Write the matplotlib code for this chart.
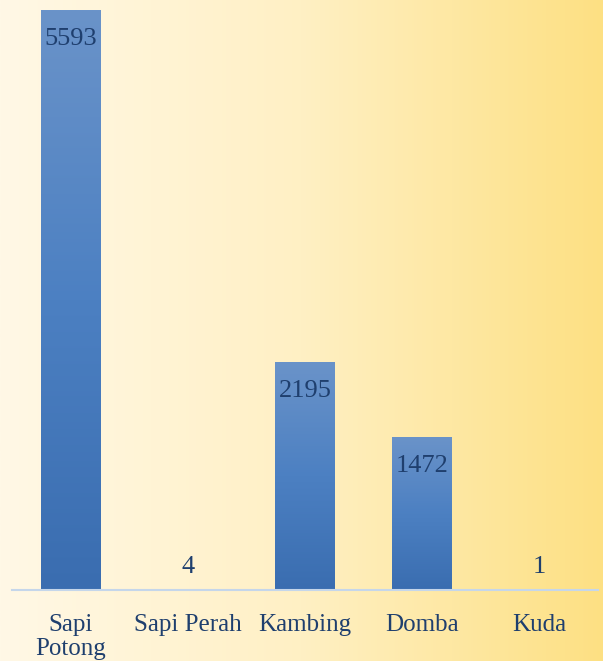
import numpy as np
import matplotlib.pyplot as plt
from matplotlib.colors import LinearSegmentedColormap

# data
categories = ["Sapi\nPotong", "Sapi Perah", "Kambing", "Domba", "Kuda"]
values = [5593, 4, 2195, 1472, 1]

text_color = "#1f3f6e"
font = "Liberation Serif"

fig = plt.figure(figsize=(6.03, 6.61), dpi=100)

# background gradient (cream -> yellow, left to right)
bg = fig.add_axes([0, 0, 1, 1], zorder=0)
bg_cmap = LinearSegmentedColormap.from_list("bg", ["#fff8e6", "#fff0c4", "#fde083"])
bg.imshow(np.linspace(0, 1, 256).reshape(1, -1), aspect="auto", cmap=bg_cmap,
          extent=[0, 1, 0, 1])
bg.axis("off")

ax = fig.add_axes([12 / 603, 71 / 661, 586 / 603, 590 / 661], zorder=1)
ax.patch.set_alpha(0)

x = np.arange(len(categories))
ymax = 5593 * 590 / 580
bar_cmap = LinearSegmentedColormap.from_list("bar", ["#3a6db0", "#4c80c2", "#6a93c9"])
grad = np.linspace(0, 1, 256).reshape(-1, 1)

bars = ax.bar(x, values, width=0.51, color="#4a7fc0", edgecolor="none")
for b in bars:
    h = b.get_height()
    if h < 50:
        b.set_color("#6a93c9")
        continue
    x0 = b.get_x()
    im = ax.imshow(grad, aspect="auto", cmap=bar_cmap, origin="lower",
                   extent=[x0, x0 + b.get_width(), 0, h], zorder=2)
    im.set_clip_path(b)

for xi, v in zip(x, values):
    if v > 500:
        ax.text(xi, v - ymax * 0.049, str(v), ha="center", va="center",
                fontsize=19, color=text_color, family=font, zorder=3)
    else:
        ax.text(xi, v + ymax * 0.038, str(v), ha="center", va="center",
                fontsize=19, color=text_color, family=font, zorder=3)

ax.set_xlim(-0.5, len(categories) - 0.5)
ax.set_ylim(0, ymax)
ax.set_yticks([])
ax.set_xticks(x)
ax.set_xticklabels(categories, fontsize=18, color=text_color, family=font,
                   linespacing=1.15, va="top")
ax.tick_params(axis="x", length=0, pad=17)
for s in ["top", "right", "left"]:
    ax.spines[s].set_visible(False)
ax.spines["bottom"].set_color("#c5d6ea")
ax.spines["bottom"].set_linewidth(1.5)

fig.savefig("out.png", dpi=100)
